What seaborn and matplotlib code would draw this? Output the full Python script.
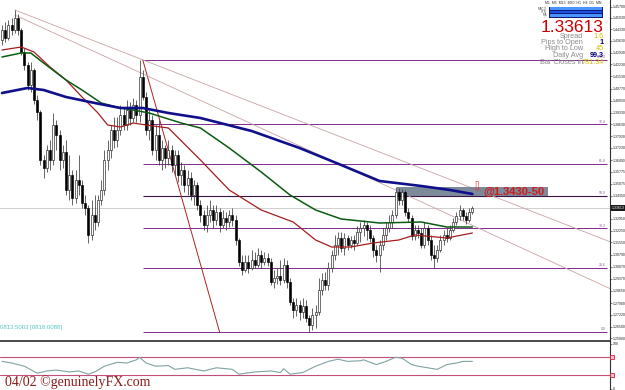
import numpy as np
import matplotlib
matplotlib.use("Agg")
import matplotlib.pyplot as plt
import seaborn as sns
from matplotlib.patches import Rectangle

sns.set_theme(style="white")
plt.rcParams['font.family'] = ['Liberation Sans', 'DejaVu Sans']

# ---------------- data ----------------
opens = [1.4369, 1.4429, 1.4381, 1.4459, 1.4429, 1.4501, 1.4429, 1.4297, 1.4219, 1.4099,
         1.4189, 1.4009, 1.3937, 1.3649, 1.3601, 1.3709, 1.3649, 1.3859, 1.3799, 1.3649,
         1.3697, 1.3469, 1.3559, 1.3421, 1.3529, 1.3499, 1.3391, 1.3361, 1.3199, 1.3319,
         1.3277, 1.3409, 1.3469, 1.3649, 1.3709, 1.3829, 1.3769, 1.3829, 1.3919, 1.3859,
         1.3949, 1.3901, 1.3979, 1.3919, 1.4147, 1.4027, 1.3829, 1.3889, 1.3709, 1.3799,
         1.3649, 1.3721, 1.3661, 1.3709, 1.3619, 1.3679, 1.3559, 1.3589, 1.3499, 1.3541,
         1.3439, 1.3499, 1.3379, 1.3319, 1.3259, 1.3319, 1.3349, 1.3289, 1.3337, 1.3259,
         1.3301, 1.3277, 1.3319, 1.3289, 1.3169, 1.3037, 1.2989, 1.3037, 1.3001, 1.3049,
         1.3019, 1.3079, 1.3037, 1.3061, 1.3037, 1.2917, 1.2941, 1.2953, 1.2929, 1.3019,
         1.2917, 1.2797, 1.2749, 1.2779, 1.2737, 1.2773, 1.2701, 1.2659, 1.2719, 1.2737,
         1.2869, 1.2929, 1.2899, 1.3001, 1.3079, 1.3139, 1.3181, 1.3121, 1.3181, 1.3139,
         1.3169, 1.3151, 1.3217, 1.3241, 1.3259, 1.3229, 1.3181, 1.3109, 1.3079, 1.3139,
         1.3199, 1.3241, 1.3277, 1.3319, 1.3457, 1.3409, 1.3457, 1.3337, 1.3301, 1.3193,
         1.3229, 1.3211, 1.3139, 1.3241, 1.3169, 1.3079, 1.3061, 1.3109, 1.3169, 1.3199,
         1.3181, 1.3229, 1.3277, 1.3313, 1.3349, 1.3313, 1.3289, 1.3337]
closes = [1.4429, 1.4381, 1.4459, 1.4429, 1.4501, 1.4429, 1.4297, 1.4219, 1.4099, 1.4189,
          1.4009, 1.3937, 1.3649, 1.3601, 1.3709, 1.3649, 1.3859, 1.3799, 1.3649, 1.3697,
          1.3469, 1.3559, 1.3421, 1.3529, 1.3499, 1.3391, 1.3361, 1.3199, 1.3319, 1.3277,
          1.3409, 1.3469, 1.3649, 1.3709, 1.3829, 1.3769, 1.3829, 1.3919, 1.3859, 1.3949,
          1.3901, 1.3979, 1.3919, 1.4147, 1.4027, 1.3829, 1.3889, 1.3709, 1.3799, 1.3649,
          1.3721, 1.3661, 1.3709, 1.3619, 1.3679, 1.3559, 1.3589, 1.3499, 1.3541, 1.3439,
          1.3499, 1.3379, 1.3319, 1.3259, 1.3319, 1.3349, 1.3289, 1.3337, 1.3259, 1.3301,
          1.3277, 1.3319, 1.3289, 1.3169, 1.3037, 1.2989, 1.3037, 1.3001, 1.3049, 1.3019,
          1.3079, 1.3037, 1.3061, 1.3037, 1.2917, 1.2941, 1.2953, 1.2929, 1.3019, 1.2917,
          1.2797, 1.2749, 1.2779, 1.2737, 1.2773, 1.2701, 1.2659, 1.2719, 1.2737, 1.2869,
          1.2929, 1.2899, 1.3001, 1.3079, 1.3139, 1.3181, 1.3121, 1.3181, 1.3139, 1.3169,
          1.3151, 1.3217, 1.3241, 1.3259, 1.3229, 1.3181, 1.3109, 1.3079, 1.3139, 1.3199,
          1.3241, 1.3277, 1.3319, 1.3457, 1.3409, 1.3457, 1.3337, 1.3301, 1.3193, 1.3229,
          1.3211, 1.3139, 1.3241, 1.3169, 1.3079, 1.3061, 1.3109, 1.3169, 1.3199, 1.3181,
          1.3229, 1.3277, 1.3313, 1.3349, 1.3313, 1.3289, 1.3337, 1.33613]
highs = [1.4459, 1.4477, 1.4489, 1.4501, 1.4549, 1.4525, 1.4441, 1.4321, 1.4237, 1.4237,
         1.4201, 1.4039, 1.3949, 1.3679, 1.3739, 1.3769, 1.3931, 1.3889, 1.3829, 1.3739,
         1.3769, 1.3679, 1.3589, 1.3589, 1.3679, 1.3529, 1.3439, 1.3379, 1.3409, 1.3439,
         1.3439, 1.3529, 1.3709, 1.3769, 1.3859, 1.3907, 1.3907, 1.3979, 1.3961, 1.4009,
         1.3997, 1.4021, 1.4009, 1.4249, 1.4189, 1.4057, 1.3949, 1.3919, 1.3859, 1.3889,
         1.3769, 1.3739, 1.3769, 1.3739, 1.3709, 1.3709, 1.3637, 1.3619, 1.3589, 1.3577,
         1.3529, 1.3517, 1.3409, 1.3349, 1.3379, 1.3409, 1.3379, 1.3379, 1.3361, 1.3349,
         1.3337, 1.3349, 1.3361, 1.3319, 1.3181, 1.3079, 1.3079, 1.3079, 1.3109, 1.3097,
         1.3121, 1.3109, 1.3097, 1.3091, 1.3061, 1.2989, 1.3001, 1.3049, 1.3061, 1.3049,
         1.2941, 1.2821, 1.2821, 1.2809, 1.2821, 1.2809, 1.2719, 1.2761, 1.2779, 1.2941,
         1.2971, 1.2977, 1.3037, 1.3109, 1.3199, 1.3217, 1.3217, 1.3211, 1.3199, 1.3193,
         1.3199, 1.3253, 1.3277, 1.3289, 1.3277, 1.3259, 1.3199, 1.3139, 1.3169, 1.3241,
         1.3277, 1.3319, 1.3349, 1.3487, 1.3481, 1.3475, 1.3469, 1.3361, 1.3319, 1.3259,
         1.3259, 1.3241, 1.3277, 1.3259, 1.3199, 1.3139, 1.3139, 1.3199, 1.3229, 1.3241,
         1.3259, 1.3301, 1.3337, 1.3379, 1.3361, 1.3337, 1.3361, 1.3373]
lows = [1.4339, 1.4357, 1.4369, 1.4399, 1.4411, 1.4399, 1.4279, 1.4189, 1.4069, 1.4057,
        1.3985, 1.3889, 1.3619, 1.3541, 1.3577, 1.3589, 1.3619, 1.3709, 1.3589, 1.3601,
        1.3439, 1.3409, 1.3379, 1.3391, 1.3439, 1.3361, 1.3319, 1.3151, 1.3169, 1.3229,
        1.3253, 1.3379, 1.3439, 1.3589, 1.3661, 1.3721, 1.3727, 1.3799, 1.3829, 1.3829,
        1.3859, 1.3877, 1.3877, 1.3877, 1.4009, 1.3799, 1.3769, 1.3679, 1.3649, 1.3619,
        1.3589, 1.3601, 1.3619, 1.3577, 1.3559, 1.3517, 1.3499, 1.3457, 1.3439, 1.3409,
        1.3379, 1.3349, 1.3277, 1.3229, 1.3217, 1.3277, 1.3241, 1.3259, 1.3217, 1.3241,
        1.3229, 1.3247, 1.3253, 1.3139, 1.3013, 1.2959, 1.2977, 1.2971, 1.2989, 1.3001,
        1.3007, 1.3001, 1.3019, 1.3013, 1.2899, 1.2881, 1.2905, 1.2899, 1.2911, 1.2881,
        1.2779, 1.2701, 1.2713, 1.2689, 1.2701, 1.2677, 1.2617, 1.2629, 1.2641, 1.2719,
        1.2839, 1.2869, 1.2869, 1.2977, 1.3049, 1.3079, 1.3097, 1.3079, 1.3109, 1.3121,
        1.3109, 1.3139, 1.3157, 1.3193, 1.3169, 1.3157, 1.3067, 1.3037, 1.2977, 1.3109,
        1.3169, 1.3217, 1.3241, 1.3301, 1.3379, 1.3379, 1.3313, 1.3277, 1.3169, 1.3169,
        1.3181, 1.3121, 1.3121, 1.3139, 1.3049, 1.3001, 1.3037, 1.3097, 1.3139, 1.3157,
        1.3169, 1.3217, 1.3259, 1.3289, 1.3289, 1.3265, 1.3277, 1.3325]

# moving averages (bar index, value)
ma_blue_idx = [0, 8, 13, 20, 29, 37, 44, 52, 62, 78, 93, 106, 118, 131, 140, 147]
ma_blue = [1.4051, 1.4081, 1.4069, 1.4027, 1.3991, 1.3961, 1.3961, 1.3931, 1.3901,
           1.3823, 1.3721, 1.3619, 1.3523, 1.3493, 1.3469, 1.3445]
ma_green_idx = [0, 6, 9, 13, 20, 25, 31, 37, 41, 46, 56, 62, 71, 81, 90, 98, 106, 118, 131, 139, 147]
ma_green = [1.4267, 1.4291, 1.4291, 1.4231, 1.4129, 1.4069, 1.3991, 1.3961, 1.3949, 1.3931,
            1.3871, 1.3841, 1.3721, 1.3577, 1.3439, 1.3349, 1.3295, 1.3271, 1.3277, 1.3247, 1.3247]
ma_red_idx = [0, 6, 10, 15, 20, 25, 30, 33, 37, 41, 45, 52, 62, 71, 81, 91, 98, 103, 109, 116, 124, 129, 139, 147]
ma_red = [1.4309, 1.4327, 1.4297, 1.4207, 1.4129, 1.4027, 1.3931, 1.3859, 1.3847, 1.3871,
          1.3859, 1.3841, 1.3649, 1.3469, 1.3349, 1.3277, 1.3169, 1.3127, 1.3127, 1.3151,
          1.3169, 1.3199, 1.3181, 1.3211]

# fibonacci retracement
fib_high, fib_low = 1.4249, 1.2617
fib_high_bar, fib_low_bar = 44, 68
fib_levels = [0.0, 23.6, 38.2, 50.0, 61.8, 76.4, 100.0]

# trend lines: (bar, price) anchor pairs
trend_upper = ([4, 130], [1.4549, 1.3607])
trend_lower = ([4, 130], [1.4519, 1.3407])

# resistance zone
zone_lo, zone_hi = 1.3433, 1.3487
zone_bars = (123.5, 170.6)
zone_label = "@1.3430-50"

price_ticks = [1.25800, 1.26500, 1.27220, 1.27900, 1.28650, 1.29370, 1.30070, 1.30790,
               1.31550, 1.32250, 1.32950, 1.34350, 1.35075, 1.35775, 1.36490, 1.37230,
               1.37930, 1.38630, 1.39330, 1.40050, 1.40770, 1.41530, 1.42230, 1.42930,
               1.43630, 1.44330, 1.45030, 1.45700]

rsi_idx = [0, 3, 7, 11, 14, 17, 21, 24, 27, 29, 32, 36, 39, 42, 43, 45, 48, 52, 54, 58,
           63, 67, 72, 74, 79, 84, 87, 88, 90, 94, 98, 102, 105, 108, 112, 113, 117, 120,
           123, 125, 128, 130, 133, 136, 139, 142, 144, 147]
rsi_vals = [60.3, 56.7, 49.6, 34.0, 39.0, 41.0, 36.9, 39.0, 31.9, 36.9, 49.6, 58.1, 56.7,
            63.8, 69.5, 56.7, 49.6, 51.0, 42.6, 46.1, 39.0, 46.1, 42.6, 31.9, 36.9, 39.0,
            35.5, 44.0, 31.9, 35.5, 49.6, 60.3, 65.2, 60.3, 61.7, 63.8, 53.2, 60.3, 69.5,
            67.4, 53.2, 49.6, 46.1, 42.6, 53.2, 56.7, 60.3, 60.3]
rsi_levels = [70, 30]

# info panel
last_price = "1.33613"
info_labels = ["Spread", "Pips to Open", "High to Low", "Daily Avg", "Bar Closes in"]
info_values = ["1.6", "1", "45", "99.3", "781:34"]
info_colors = ["#d6c200", "#00007a", "#d6c200", "#00007a", "#d6c200"]
timeframes = "M1  M5  M15  M30  H1  H4  D1  MN"

# ---------------- figure ----------------
W, H = 625, 390
fig = plt.figure(figsize=(6.25, 3.9), dpi=100)
fig.patch.set_facecolor("white")
ax = fig.add_axes([0, 49 / H, 610 / W, 341 / H])
ax2 = fig.add_axes([0, 0, 610 / W, 48 / H])
XMAX = 190.0
for a in (ax, ax2):
    a.set_xlim(-0.625, XMAX)
    a.set_facecolor("white")
    a.set_xticks([])
    for s in ("left", "top"):
        a.spines[s].set_visible(False)
    a.spines["right"].set_color("#303030")
    a.spines["right"].set_linewidth(0.8)
ax.spines["bottom"].set_color("#2a2a2a")
ax.spines["bottom"].set_linewidth(1.2)
ax2.spines["bottom"].set_visible(False)
ax.set_ylim(1.2563, 1.4609)

idx = np.arange(len(closes))
o = np.array(opens); c = np.array(closes); hi = np.array(highs); lo = np.array(lows)

# current price line
ax.axhline(c[-1], color="#c8c8c8", lw=0.6, zorder=1)

# fib levels
for lvl in fib_levels:
    p = fib_low + lvl / 100 * (fib_high - fib_low)
    col = "#3a1545" if lvl == 50.0 else "#7a2a88"
    ax.hlines(p, fib_high_bar, XMAX - 0.8, color=col, lw=0.8 if lvl == 50.0 else 0.7, zorder=2)
    ax.text(188.6, p + 0.0003, f"{lvl:.1f}", fontsize=2.5, color="#9a5aa8",
            ha="right", va="bottom", zorder=6)
ax.plot([fib_high_bar, fib_low_bar], [fib_high, fib_low], color="#b02222", lw=0.7, zorder=2)

# trend lines
for (xs, ys) in (trend_upper, trend_lower):
    slope = (ys[1] - ys[0]) / (xs[1] - xs[0])
    xx = np.array([xs[0], XMAX])
    ax.plot(xx, ys[0] + slope * (xx - xs[0]), color="#c9a3a3", lw=0.6, zorder=2)

# zone
ax.add_patch(Rectangle((zone_bars[0], zone_lo), zone_bars[1] - zone_bars[0], zone_hi - zone_lo,
                       facecolor="#6f7d8f", edgecolor="none", alpha=0.9, zorder=2))
ax.text(150.3, (zone_lo + zone_hi) / 2, zone_label, color="#d41818", fontsize=8,
        fontweight="bold", ha="left", va="center", zorder=7)
ax.text(148.4, 1.3478, "\u21e9", color="#e04040", fontsize=9, family="DejaVu Sans",
        ha="center", va="center", zorder=7)

# candles
ax.vlines(idx, lo, hi, color="#3a3a3a", lw=0.55, zorder=3)
up = c >= o
bottom = np.minimum(o, c)
height = np.maximum(np.abs(c - o), 0.00025)
ax.bar(idx[up], height[up], bottom=bottom[up], width=0.62, color="white",
       edgecolor="#202020", linewidth=0.45, zorder=4)
ax.bar(idx[~up], height[~up], bottom=bottom[~up], width=0.62, color="black",
       edgecolor="black", linewidth=0.45, zorder=4)

# moving averages
sns.lineplot(x=ma_red_idx, y=ma_red, ax=ax, color="#a51c1c", linewidth=0.9, legend=False, zorder=5)
sns.lineplot(x=ma_green_idx, y=ma_green, ax=ax, color="#0b5a12", linewidth=1.1, legend=False, zorder=5)
sns.lineplot(x=ma_blue_idx, y=ma_blue, ax=ax, color="#10108a", linewidth=1.9, legend=False, zorder=5)

# price axis
ax.yaxis.tick_right()
ax.set_yticks(price_ticks)
ax.set_yticklabels([f"{t:.5f}" for t in price_ticks])
ax.tick_params(axis="y", labelsize=2.5, length=1.2, width=0.4, pad=0.6, colors="#202020")
ax.set_ylabel(""); ax.set_xlabel("")

# RSI
ax2.set_ylim(-3.3, 103.4)
for lv in rsi_levels:
    ax2.axhline(lv, color="#c0507a", lw=0.8, zorder=2)
sns.lineplot(x=rsi_idx, y=rsi_vals, ax=ax2, color="#7fa3a3", linewidth=0.8, legend=False, zorder=3)
ax2.yaxis.tick_right()
ax2.set_yticks([0, 100])
ax2.set_yticklabels(["0", "100"])
ax2.tick_params(axis="y", labelsize=2.5, length=1.2, width=0.4, pad=0.6, colors="#202020")
ax2.set_ylabel(""); ax2.set_xlabel("")

# ---------------- overlay decorations (pixel coords) ----------------
ov = fig.add_axes([0, 0, 1, 1], zorder=10)
ov.set_xlim(0, W); ov.set_ylim(H, 0); ov.axis("off"); ov.patch.set_alpha(0)

# current price tag
ov.add_patch(Rectangle((611, 205), 14, 6, facecolor="#1a1a1a", edgecolor="none"))
ov.text(611.6, 208.2, last_price, color="white", fontsize=2.5, va="center", ha="left")
# RSI level markers
for yy in (357, 375):
    ov.add_patch(Rectangle((610, yy - 2), 4, 4, facecolor="#f3c0c8", edgecolor="#d02040", lw=0.6))

# top-right panel
ov.text(573, 3.5, timeframes, fontsize=2.5, color="#303030", ha="center", va="center")
ov.add_patch(Rectangle((549, 6.5), 54, 11, facecolor="#0a1a7a", edgecolor="none"))
for yy, col in ((7.3, "#4a93ff"), (10.8, "#1d50e0"), (14.3, "#4a93ff")):
    ov.add_patch(Rectangle((550, yy), 52, 2.3, facecolor=col, edgecolor="none"))
for yy, s in ((8.5, "MACD"), (12, "STR"), (15.5, "MA")):
    ov.text(547, yy, s, fontsize=2.2, color="#505050", ha="right", va="center")
ov.text(603, 32, last_price, fontsize=12.5, color="#cc0000", ha="right", va="baseline")
for k, (lab, val, col) in enumerate(zip(info_labels, info_values, info_colors)):
    yb = 37.5 + k * 6.5
    ov.text(583, yb, lab, fontsize=5.2, color="#8c8c8c", ha="right", va="baseline")
    ov.text(604, yb, val, fontsize=5.2, color=col, ha="right", va="baseline",
            fontweight="bold" if col == "#00007a" else "normal")

# bottom-left texts
ov.text(0, 327, "0813:5003 [0818:0088]", fontsize=4.3, color="#55c8c8", ha="left", va="center")
ov.text(5, 382.5, "04/02 \u00a9genuinelyFX.com", fontsize=10, color="#8b1a1a",
        family=["Liberation Serif", "DejaVu Serif"], ha="left", va="center")

fig.savefig("out.png", dpi=100)
